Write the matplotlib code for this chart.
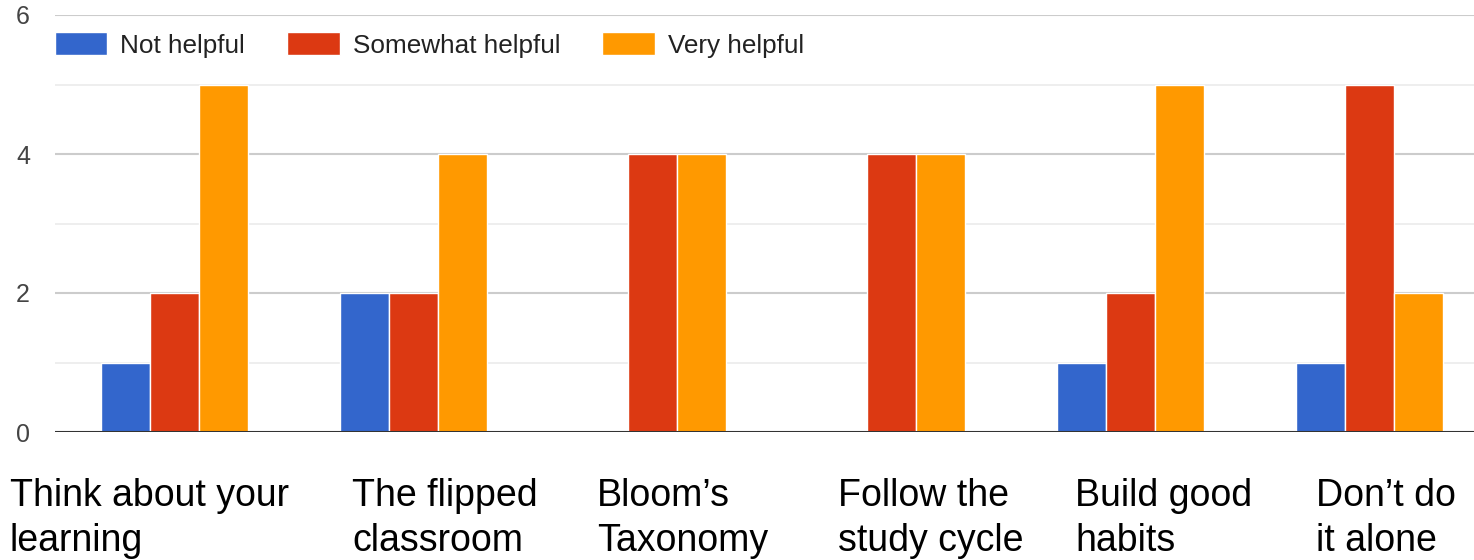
import numpy as np
import matplotlib.pyplot as plt
from matplotlib.ticker import MultipleLocator
from matplotlib.transforms import blended_transform_factory

# =============================================================================== #
# DADOS

categorias = [
    "Think about your\nlearning",
    "The flipped\nclassroom",
    "Bloom’s\nTaxonomy",
    "Follow the\nstudy cycle",
    "Build good\nhabits",
    "Don’t do\nit alone",
]
series = ["Not helpful", "Somewhat helpful", "Very helpful"]
not_helpful = [1, 2, 0, 0, 1, 1]
somewhat_helpful = [2, 2, 4, 4, 2, 5]
very_helpful = [5, 4, 4, 4, 5, 2]
cores = ["#3366cc", "#dc3912", "#ff9900"]

# =============================================================================== #
# GRÁFICO

W, H = 1474, 560
fig = plt.figure(figsize=(W / 100, H / 100), dpi=100)
ax = fig.add_axes([55 / W, 1 - 432 / H, 1419 / W, 417 / H])

x = np.arange(len(categorias))
largura = 0.204
valores = [not_helpful, somewhat_helpful, very_helpful]
for i in range(3):
    ax.bar(x + (i - 1) * largura, valores[i], width=largura, color=cores[i],
           edgecolor="white", linewidth=1.0, label=series[i], zorder=3)

ax.set_xlim(-0.5, -0.5 + 1419 / 239)
ax.set_ylim(0, 6)
ax.yaxis.set_major_locator(MultipleLocator(2))
ax.yaxis.set_minor_locator(MultipleLocator(1))
ax.grid(axis="y", which="major", color="#cccccc", linewidth=1.5, zorder=0)
ax.grid(axis="y", which="minor", color="#ebebeb", linewidth=1.2, zorder=0)
ax.axhline(0, color="#333333", linewidth=2.2, zorder=4)
for s in ax.spines.values():
    s.set_visible(False)
ax.tick_params(axis="y", which="both", length=0, pad=18, labelsize=18,
               labelcolor="#444444")
ax.tick_params(axis="x", length=0, labelbottom=False)
for lab in ax.get_yticklabels():
    lab.set_fontfamily(["Liberation Sans", "DejaVu Sans"])

# rótulos do eixo x, alinhados à esquerda
pos_rotulos = [-0.6883, 0.7427, 1.7678, 2.7762, 3.7678, 4.7762]
trans = blended_transform_factory(ax.transData, fig.transFigure)
for i in range(len(categorias)):
    ax.text(pos_rotulos[i], 1 - 478 / H, categorias[i], transform=trans,
            ha="left", va="top", fontsize=27, linespacing=1.33,
            family=["Liberation Sans", "DejaVu Sans"], color="black")

leg = fig.legend(loc="center left", bbox_to_anchor=(55 / W, 1 - 45 / H),
                 ncol=3, frameon=False, handlelength=2.0,
                 handleheight=0.92, handletextpad=0.5, columnspacing=1.62,
                 borderpad=0, borderaxespad=0,
                 prop={"family": ["Liberation Sans", "DejaVu Sans"], "size": 18.8})
for t in leg.get_texts():
    t.set_color("#222222")

fig.savefig("out.png", dpi=100)
